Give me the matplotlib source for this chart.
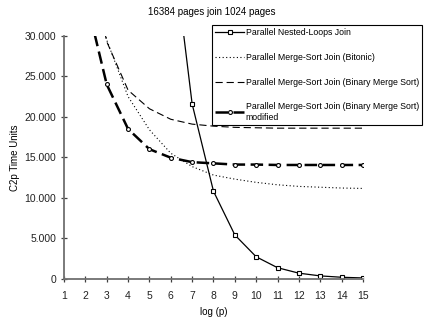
import matplotlib
matplotlib.use('Agg')
import matplotlib.pyplot as plt
from matplotlib.ticker import FuncFormatter

plt.rcParams['font.family'] = ['Liberation Sans', 'DejaVu Sans']

# data (log(p) vs C2p time units)
x_nested = [6, 7, 8, 9, 10, 11, 12, 13, 14, 15]
nested = [43200, 21600, 10800, 5400, 2700, 1350, 675, 338, 169, 84]

x_sort = [2, 3, 4, 5, 6, 7, 8, 9, 10, 11, 12, 13, 14, 15]
bitonic = [42000, 29500, 22500, 18400, 15500, 13850, 12800, 12300,
           11900, 11600, 11400, 11300, 11200, 11150]
binary = [42000, 29300, 23300, 21000, 19700, 19100, 18850, 18700,
          18650, 18600, 18600, 18600, 18600, 18600]
modified = [35000, 24000, 18500, 16000, 14950, 14400, 14250, 14100,
            14100, 14050, 14050, 14050, 14050, 14050]

labels = ['Parallel Nested-Loops Join',
          'Parallel Merge-Sort Join (Bitonic)',
          'Parallel Merge-Sort Join (Binary Merge Sort)',
          'Parallel Merge-Sort Join (Binary Merge Sort)\nmodified']

fig = plt.figure(figsize=(4.24, 3.21), dpi=100)
ax = fig.add_axes([0.151, 0.132, 0.705, 0.756])

ax.plot(x_nested, nested, color='black', lw=0.9, marker='s', ms=3.3,
        mfc='white', mec='black', mew=0.8, label=labels[0])
ax.plot(x_sort, bitonic, color='black', lw=0.8, dashes=(1, 2.2),
        label=labels[1])
ax.plot(x_sort, binary, color='black', lw=0.8, dashes=(6.5, 3.5),
        label=labels[2])
ax.plot(x_sort, modified, color='black', lw=1.8, dashes=(5, 2.2),
        marker='o', ms=2.8, mfc='white', mec='black', mew=0.8,
        label=labels[3])

ax.set_xlim(1, 15)
ax.set_ylim(0, 30000)
ax.set_xticks(range(1, 16))
ax.set_yticks(range(0, 30001, 5000))
ax.yaxis.set_major_formatter(FuncFormatter(lambda v, p: f'{int(v):,}'.replace(',', '.')))

for s in ['top', 'right']:
    ax.spines[s].set_visible(False)
for s in ['left', 'bottom']:
    ax.spines[s].set_color('#707070')
    ax.spines[s].set_linewidth(1.3)
ax.tick_params(axis='both', direction='inout', length=4, width=0.9,
               labelsize=7.5, colors='#222222')
ax.tick_params(axis='both', color='#404040')
ax.tick_params(axis='x', pad=7)

ax.set_xlabel('log (p)', fontsize=7, labelpad=4.5)
ax.set_ylabel('C2p Time Units', fontsize=7, labelpad=3)
fig.text(0.5, 1 - 12 / 321, '16384 pages join 1024 pages', ha='center',
         va='center', fontsize=7)

leg = fig.legend(loc='upper right', bbox_to_anchor=(422 / 424, 1 - 25 / 321),
                 fontsize=6.3, frameon=True, fancybox=False, framealpha=1,
                 edgecolor='black', labelspacing=1.8, handlelength=3.3,
                 handletextpad=0.2, borderpad=0.35, borderaxespad=0)
leg.get_frame().set_linewidth(0.8)

fig.savefig('out.png', dpi=100)
